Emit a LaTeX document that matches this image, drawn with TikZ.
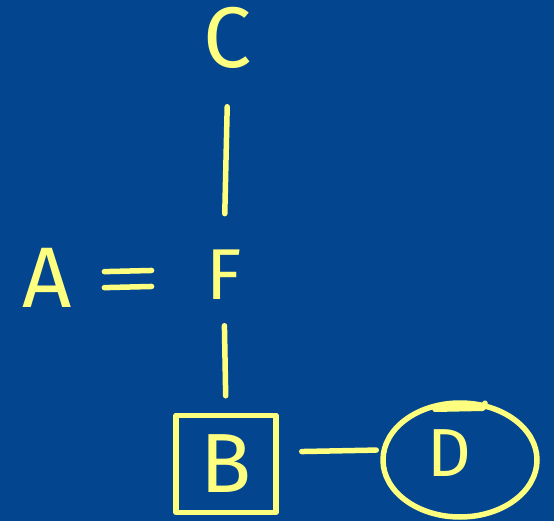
\documentclass[tikz,border=0pt]{standalone}
\usepackage{fontspec}
\setmainfont{Fira Sans}
\usetikzlibrary{shapes.geometric}
\definecolor{bg}{HTML}{03468F}
\definecolor{ink}{HTML}{FFFF7F}
\begin{document}
\begin{tikzpicture}[x=1pt,y=-1pt,line width=5.5pt,line cap=round,line join=round,
  letter/.style={text=ink,inner sep=0pt,anchor=base},
  conn/.style={draw=ink}]
\fill[bg] (0,0) rectangle (554,521);
\useasboundingbox (0,0) rectangle (554,521);
\node[letter,font=\fontsize{86}{86}\selectfont] (C) at (228,68) {C};
\node[letter,font=\fontsize{86}{86}\selectfont] (A) at (47,308) {A};
\node[letter,font=\fontsize{72}{72}\selectfont] (F) at (224,300) {F};
\node[draw=ink,text=ink,rectangle,minimum width=100pt,minimum height=97pt,inner sep=0pt,
      font=\fontsize{84}{84}\selectfont] (B) at (226,464) {\raisebox{-5pt}{B}};
\node[draw=ink,text=ink,ellipse,minimum width=154pt,minimum height=114pt,inner sep=0pt,
      font=\fontsize{68}{68}\selectfont] (D) at (460,460) {\hspace*{-22pt}\raisebox{14pt}{D}};
\draw[conn] ([shift={(-25pt,-9pt)}]D.north) -- ([shift={(23pt,-8pt)}]D.north)
  -- ([shift={(25pt,-3pt)}]D.north);
\draw[conn,shorten <=35pt,shorten >=34pt] (C.south) -- (F.north);
\draw[conn,shorten <=23pt,shorten >=17pt] (F.south) -- (B.north);
\draw[conn,shorten <=23pt,shorten >=4pt] ([yshift=12pt]B.east) -- ([yshift=10pt]D.west);
\draw[conn,shorten <=30pt,shorten >=52pt] ([yshift=6pt]A.east) -- ([yshift=6pt]F.west);
\draw[conn,shorten <=30pt,shorten >=52pt] ([yshift=-10pt]A.east) -- ([yshift=-10pt]F.west);
\end{tikzpicture}
\end{document}
